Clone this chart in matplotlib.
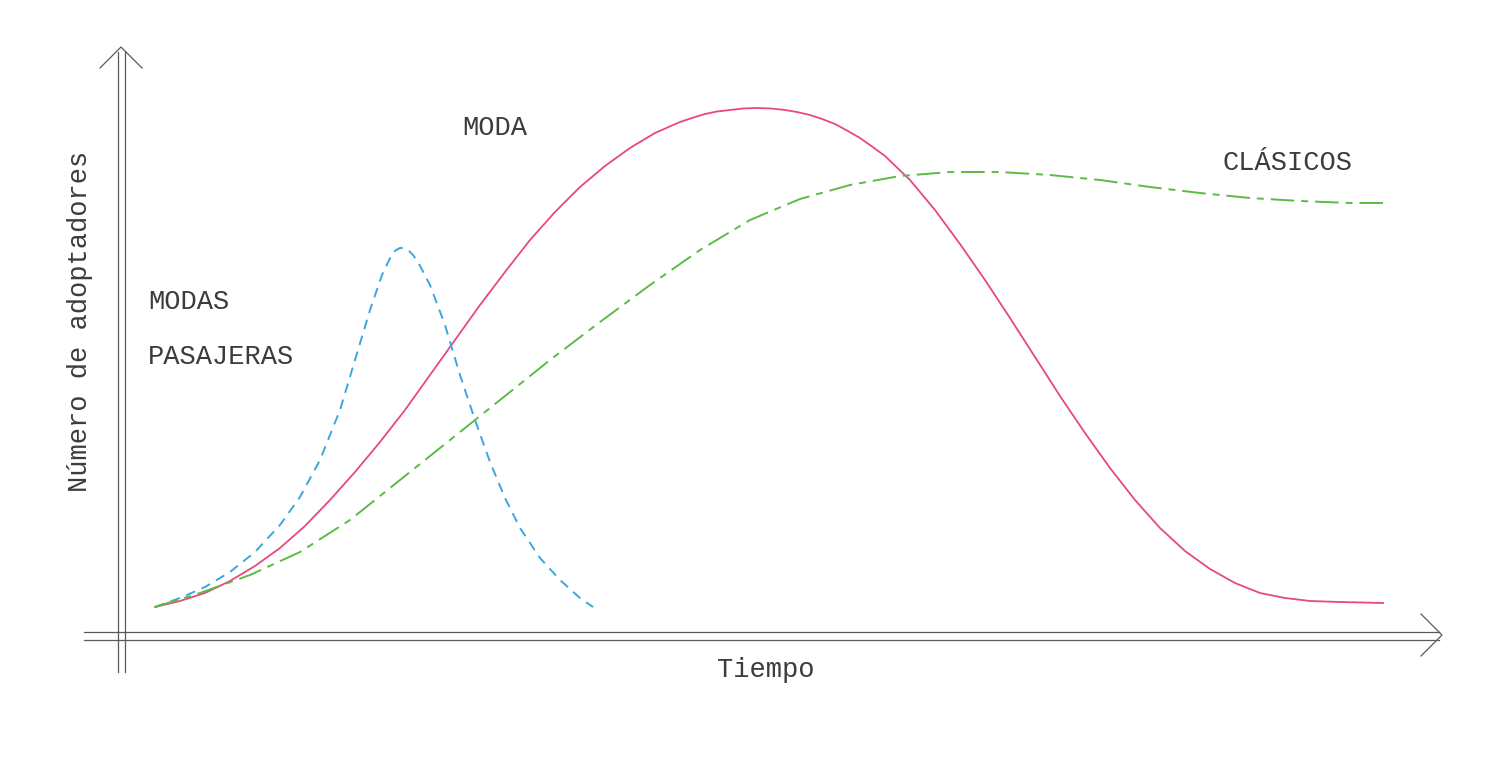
import numpy as np
import matplotlib
matplotlib.use('Agg')
import matplotlib.pyplot as plt

plt.rcParams['font.family'] = ['Liberation Mono', 'DejaVu Sans Mono']
plt.rcParams['lines.scale_dashes'] = False

# tiempo / numero de adoptadores (unidades arbitrarias)
moda_t = [3.3, 5.8, 8.3, 10.8, 13.3, 15.8, 18.3, 20.8, 23.3, 25.8, 28.3, 30.8, 33.3,
          35.8, 38.3, 40.8, 43.3, 45.8, 48.3, 50.8, 53.3, 55.8, 57.0, 58.3, 59.5, 60.8,
          62.1, 63.5, 64.9, 66.3, 67.5, 68.8, 70.0, 71.3, 72.5, 73.8, 75.0, 76.3, 78.8,
          81.3, 83.8, 86.3, 88.8, 91.3, 93.8, 96.3, 98.8, 101.3, 103.8, 106.3, 108.8,
          111.3, 113.8, 116.3, 118.8, 121.8, 126.1]
moda_v = [5.6, 6.8, 8.4, 10.8, 13.8, 17.4, 21.8, 27.0, 32.6, 38.6, 45.0, 52.0, 59.0,
          66.0, 72.6, 79.0, 84.6, 89.6, 93.8, 97.4, 100.4, 102.6, 103.4, 104.2, 104.7, 105.0,
          105.3, 105.4, 105.3, 105.0, 104.6, 104.0, 103.2, 102.2, 100.9, 99.4, 97.7, 95.8, 91.0,
          85.0, 78.2, 71.0, 63.4, 55.6, 47.8, 40.4, 33.4, 27.0, 21.4, 16.8, 13.2,
          10.4, 8.4, 7.4, 6.8, 6.6, 6.4]

pasajera_t = [3.3, 5.8, 8.3, 10.8, 13.3, 15.8, 17.8, 19.8, 21.8, 23.3, 24.8, 26.0, 27.0,
              27.4, 27.8, 28.2, 28.6, 29.1, 29.6, 30.8, 32.3, 33.8, 35.3, 36.8, 38.3,
              39.8, 41.8, 43.8, 45.8, 47.1]
pasajera_v = [5.6, 7.4, 9.6, 12.6, 16.6, 22.0, 27.6, 35.0, 45.0, 55.0, 65.0, 72.0, 76.2,
              77.0, 77.4, 77.4, 77.0, 76.0, 74.6, 70.0, 62.0, 52.0, 43.0, 34.6, 27.4,
              21.4, 15.4, 11.0, 7.4, 5.6]

clasico_t = [3.3, 7.8, 12.8, 17.8, 22.8, 27.8, 32.8, 37.8, 42.8, 47.8, 52.8, 57.8, 62.8,
             67.8, 72.8, 77.8, 82.8, 87.8, 92.8, 97.8, 102.8, 107.8, 112.8, 117.8, 122.8, 126.1]
clasico_v = [5.6, 8.4, 12.0, 16.6, 23.0, 31.0, 39.0, 47.0, 55.0, 62.6, 70.0, 77.0, 83.0,
             87.2, 90.0, 91.8, 92.6, 92.6, 92.0, 91.0, 89.6, 88.4, 87.4, 86.8, 86.4, 86.4]

W, H = 1509, 761
fig = plt.figure(figsize=(W / 100, H / 100), dpi=100)
fig.patch.set_facecolor('white')

# ejes de datos
ax = fig.add_axes([0, 0, 1, 1])
ax.set_xlim(-12.2, 138.7)
ax.set_ylim(-25.2, 127.0)
ax.axis('off')

ax.plot(moda_t, moda_v, color='#e9477f', lw=1.3, solid_joinstyle='round')
ax.plot(pasajera_t, pasajera_v, color='#3ba7de', lw=1.4, linestyle=(0, (7, 5)))
ax.plot(clasico_t, clasico_v, color='#5dba46', lw=1.4, linestyle=(0, (17, 5, 5, 5)))

# capa en pixeles para flechas y textos
ov = fig.add_axes([0, 0, 1, 1], facecolor='none')
ov.set_xlim(0, W)
ov.set_ylim(H, 0)
ov.axis('off')

gris = '#5a5a5a'
# eje vertical doble con flecha
ov.plot([117.5, 117.5], [672, 52], color=gris, lw=0.9)
ov.plot([125, 125], [672, 52], color=gris, lw=0.9)
ov.plot([100, 121, 142], [68, 47, 68], color=gris, lw=0.9)
# eje horizontal doble con flecha
ov.plot([84, 1439], [631.5, 631.5], color=gris, lw=0.9)
ov.plot([84, 1439], [639.5, 639.5], color=gris, lw=0.9)
ov.plot([1421, 1442, 1421], [614, 635, 656], color=gris, lw=0.9)

txt = dict(fontsize=19.5, color='#3c3c3c')
ov.text(462, 128, 'MODA', va='center', ha='left', **txt)
ov.text(1222, 163, 'CLÁSICOS', va='center', ha='left', **txt)
ov.text(148, 302, 'MODAS', va='center', ha='left', **txt)
ov.text(148, 357, 'PASAJERAS', va='center', ha='left', **txt)
ov.text(766, 670, 'Tiempo', va='center', ha='center', **txt)
ov.text(80, 321, 'Número de adoptadores', va='center', ha='center', rotation=90, **txt)

fig.savefig('out.png', dpi=100, facecolor='white')
